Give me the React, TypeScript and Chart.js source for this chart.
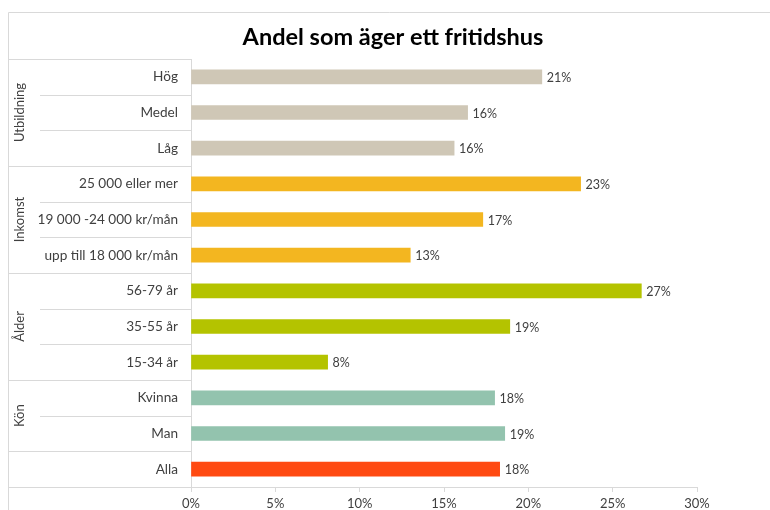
import React, { useEffect, useRef } from "react";
import { Chart, registerables } from "chart.js";

Chart.register(...registerables);

const title = "Andel som äger ett fritidshus";
const categories = [
  "Hög",
  "Medel",
  "Låg",
  "25 000 eller mer",
  "19 000 -24 000 kr/mån",
  "upp till 18 000 kr/mån",
  "56-79 år",
  "35-55 år",
  "15-34 år",
  "Kvinna",
  "Man",
  "Alla",
];
const values = [20.8, 16.4, 15.6, 23.1, 17.3, 13.0, 26.7, 18.9, 8.1, 18.0, 18.6, 18.3];
const groupNames = ["Utbildning", "Inkomst", "Ålder", "Kön", ""];
const groupSizes = [3, 3, 3, 2, 1];
const groupColors = ["#CFC7B6", "#F3B620", "#B4C300", "#93C3AE", "#FF4A12"];
const xMin = 0;
const xMax = 30;
const xStep = 5;

const FONT = "Lato, 'Open Sans', sans-serif";
const LINE = "#D9D9D9";
const TEXT = "#404040";

function barColors(): string[] {
  const out: string[] = [];
  groupSizes.forEach((n, g) => {
    for (let i = 0; i < n; i++) out.push(groupColors[g]);
  });
  return out;
}

const framePlugin = {
  id: "frame",
  afterDraw(chart: any) {
    const ctx = chart.ctx as CanvasRenderingContext2D;
    const y = chart.scales.y;
    const x = chart.scales.x;
    const area = chart.chartArea;
    ctx.save();
    ctx.strokeStyle = LINE;
    ctx.lineWidth = 1;
    // outer frame
    ctx.beginPath();
    ctx.moveTo(8.5, 510);
    ctx.lineTo(8.5, 12.5);
    ctx.lineTo(770, 12.5);
    ctx.stroke();

    // table lines
    const n = categories.length;
    const boundary = (i: number) => {
      if (i === 0) return area.top;
      if (i === n) return area.bottom;
      return (y.getPixelForValue(i - 1) + y.getPixelForValue(i)) / 2;
    };
    const groupStarts: number[] = [];
    let acc = 0;
    groupSizes.forEach((s) => {
      groupStarts.push(acc);
      acc += s;
    });
    const isGroupEdge = (i: number) => i === 0 || i === n || groupStarts.includes(i);
    for (let i = 0; i <= n; i++) {
      const yy = Math.round(boundary(i)) + 0.5;
      const x0 = isGroupEdge(i) ? 8 : 40;
      ctx.beginPath();
      ctx.moveTo(x0, yy);
      ctx.lineTo(area.left, yy);
      ctx.stroke();
    }

    // group labels
    ctx.fillStyle = TEXT;
    ctx.font = `13px ${FONT}`;
    ctx.textAlign = "center";
    ctx.textBaseline = "middle";
    groupNames.forEach((name, g) => {
      if (!name) return;
      const top = boundary(groupStarts[g]);
      const bot = boundary(groupStarts[g] + groupSizes[g]);
      const cy = (top + bot) / 2;
      ctx.save();
      ctx.translate(20, cy);
      ctx.rotate(-Math.PI / 2);
      ctx.fillText(name, 0, 0);
      ctx.restore();
    });

    // value labels
    ctx.font = `12.5px ${FONT}`;
    ctx.textAlign = "left";
    ctx.textBaseline = "middle";
    values.forEach((v, i) => {
      const px = x.getPixelForValue(v);
      const py = y.getPixelForValue(i);
      ctx.fillText(`${Math.round(v)}%`, px + 5, py + 1);
    });

    // title
    ctx.font = `bold 23.5px ${FONT}`;
    ctx.fillStyle = "#000000";
    ctx.textAlign = "center";
    ctx.textBaseline = "middle";
    ctx.fillText(title, 393, 37);
    ctx.restore();
  },
};

export default function App() {
  const ref = useRef<HTMLCanvasElement | null>(null);
  useEffect(() => {
    document.body.style.margin = "0";
    if (!ref.current) return;
    const chart = new Chart(ref.current, {
      type: "bar",
      data: {
        labels: categories,
        datasets: [
          {
            data: values,
            backgroundColor: barColors(),
            borderWidth: 0,
            barThickness: 14,
          },
        ],
      },
      options: {
        indexAxis: "y",
        responsive: false,
        animation: false,
        layout: { padding: { top: 59, right: 73, bottom: 0, left: 0 } },
        plugins: {
          legend: { display: false },
          tooltip: { enabled: false },
          title: { display: false },
        },
        scales: {
          x: {
            min: xMin,
            max: xMax,
            ticks: {
              stepSize: xStep,
              color: TEXT,
              font: { family: FONT, size: 13 },
              padding: 4,
              callback: (v: any) => `${v}%`,
            },
            grid: {
              drawOnChartArea: false,
              drawTicks: true,
              tickLength: 5,
              color: LINE,
            },
            border: { display: true, color: LINE },
            afterFit: (s: any) => {
              s.height = 23;
            },
          },
          y: {
            ticks: {
              color: TEXT,
              font: { family: FONT, size: 13.6 },
              padding: 13,
              autoSkip: false,
            },
            grid: { display: false, drawTicks: false },
            border: { display: true, color: LINE },
            afterFit: (s: any) => {
              s.width = 191;
            },
          },
        },
      },
      plugins: [framePlugin],
    });
    return () => chart.destroy();
  }, []);
  return (
    <div style={{ width: 770, height: 510 }}>
      <canvas ref={ref} width={770} height={510} />
    </div>
  );
}
